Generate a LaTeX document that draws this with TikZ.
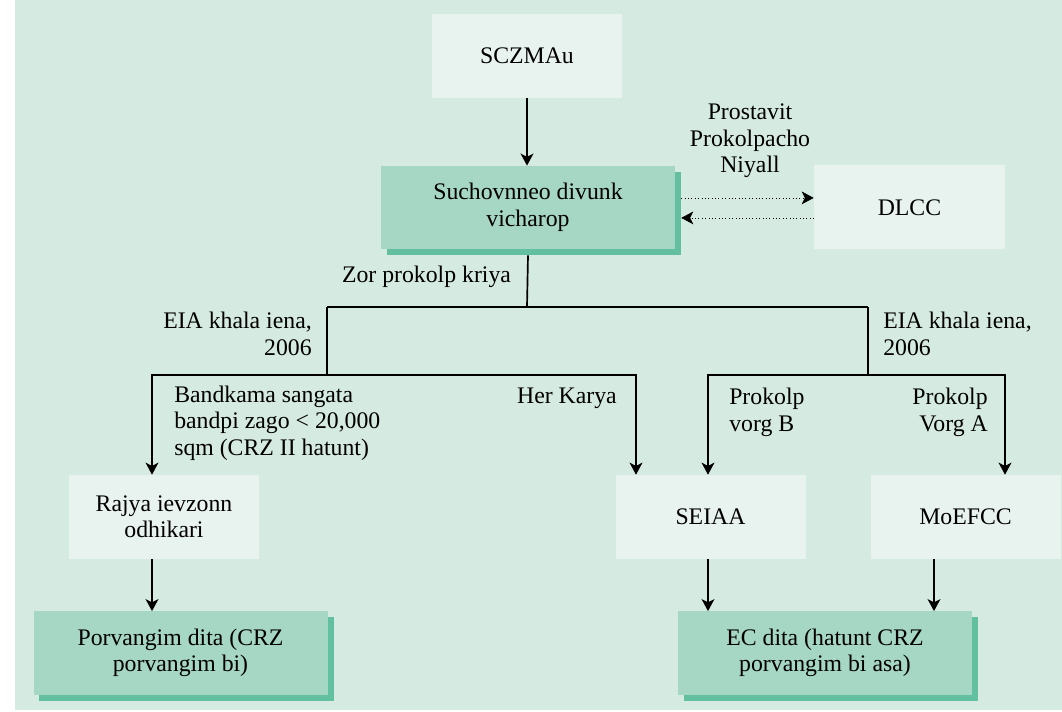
\documentclass[tikz,border=0pt]{standalone}
\usepackage{fontspec}
\setmainfont{Liberation Serif}
\usetikzlibrary{shadows,arrows.meta}
\definecolor{bggreen}{RGB}{213,234,224}
\definecolor{palebox}{RGB}{232,243,239}
\definecolor{midbox}{RGB}{166,214,196}
\definecolor{darkshade}{RGB}{98,191,160}

\begin{document}
\begin{tikzpicture}[>={Stealth[length=3mm,width=3.2mm,inset=0.8mm]},
  every node/.style={font=\fontsize{16.9}{18.8}\selectfont},
  sidebox/.style={fill=palebox, minimum width=4.75cm, minimum height=2.1cm, align=center},
  mainbox/.style={fill=midbox, minimum width=7.35cm, minimum height=2.08cm, align=center,
    general shadow={fill=darkshade, shadow xshift=0.15cm, shadow yshift=-0.15cm}},
  lbl/.style={inner sep=0pt},
  wire/.style={line width=1.2pt},
  dots/.style={dotted, thin}]
\useasboundingbox (0,0) rectangle (26.55,17.775);
\fill[bggreen] (0.375,0.025) rectangle (26.55,17.775);

\node[sidebox] (sczma) at (13.175,16.375) {SCZMAu};
\node[mainbox] (vich) at (13.2,12.5875) {Suchovnneo divunk\\vicharop};
\node[sidebox, minimum width=4.775cm] (dlcc) at (22.7375,12.5875) {DLCC};
\node[sidebox] (rajya) at (4.1,4.85) {Rajya ievzonn\\odhikari};
\node[sidebox] (seiaa) at (17.7625,4.85) {SEIAA};
\node[sidebox] (moef) at (24.1375,4.85) {MoEFCC};
\node[mainbox] (porv) at (4.5125,1.45) {Porvangim dita (CRZ\\porvangim bi)};
\node[mainbox] (ecdita) at (20.625,1.45) {EC dita (hatunt CRZ\\porvangim bi asa)};

\node[lbl, align=center] (niyall) at (18.75,14.25) {Prostavit\\Prokolpacho\\Niyall};
\node[lbl] (zor) at (10.6625,10.85) {Zor prokolp kriya};
\node[lbl, align=right, anchor=east] (eiaL) at (7.8,9.425) {EIA khala iena,\\2006};
\node[lbl, align=left, anchor=west] (eiaR) at (22.075,9.425) {EIA khala iena,\\2006};
\node[lbl, align=left, anchor=west] (bandk) at (4.35,7.2) {Bandkama sangata\\bandpi zago < 20,000\\sqm (CRZ II hatunt)};
\node[lbl, anchor=east] (her) at (15.425,7.825) {Her Karya};
\node[lbl, align=left, anchor=west] (vorgB) at (18.225,7.4625) {Prokolp\\vorg B};
\node[lbl, align=right, anchor=east] (vorgA) at (24.7,7.4625) {Prokolp\\Vorg A};

% junctions
\coordinate (fork) at (13.175,10.1);
\coordinate (forkL) at (8.175,10.1);
\coordinate (forkR) at (21.7,10.1);
\coordinate (legL) at (8.175,8.4);
\coordinate (legR) at (21.7,8.4);
\coordinate (toRajya) at (3.8,8.4);
\coordinate (toSeiaa) at (15.9,8.4);
\coordinate (toSeiaaB) at (17.7,8.4);
\coordinate (toMoef) at (25.125,8.4);
\coordinate (fromMoef) at (23.35,8.4);

\path[draw,wire,->] (sczma.south) -- (sczma.south |- vich.north);
\path[draw,dots,->] ([shift={(0.15,0.24)}]vich.east) -- ([yshift=0.24cm]dlcc.west);
\path[draw,dots,->] ([yshift=-0.26cm]dlcc.west) -- ([shift={(0.15,-0.26)}]vich.east);
\path[draw,wire] ([yshift=-0.15cm]vich.south) -- (fork);
\path[draw,wire] (forkL) -- (forkR);
\path[draw,wire] (forkL) -- (legL);
\path[draw,wire] (forkR) -- (legR);

\path[draw,wire,->] (legL) -- (toRajya) -- (toRajya |- rajya.north);
\path[draw,wire,->] (legL) -- (toSeiaa) -- (toSeiaa |- seiaa.north);
\path[draw,wire,->] (legR) -- (toSeiaaB) -- (toSeiaaB |- seiaa.north);
\path[draw,wire,->] (legR) -- (toMoef) -- (toMoef |- moef.north);

\path[draw,wire,->] (toRajya |- rajya.south) -- (toRajya |- porv.north);
\path[draw,wire,->] (toSeiaaB |- seiaa.south) -- (toSeiaaB |- ecdita.north);
\path[draw,wire,->] (fromMoef |- moef.south) -- (fromMoef |- ecdita.north);
\end{tikzpicture}
\end{document}
